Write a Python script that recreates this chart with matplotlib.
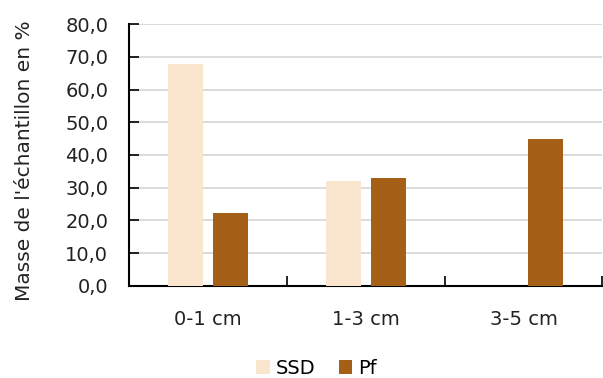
import numpy as np
import matplotlib.pyplot as plt

# ─── Données ──────────────────────────────────────────────────────
categories = ["0-1 cm", "1-3 cm", "3-5 cm"]
ssd = [67.8, 32.2, 0.0]
pf = [22.4, 33.0, 44.8]

COL_SSD = "#FAE5CF"
COL_PF = "#A65F16"

plt.rcParams["font.family"] = ["DejaVu Sans"]

fig = plt.figure(figsize=(6.03, 3.78), dpi=100)
ax = fig.add_axes([0.2139, 0.2434, 0.785, 0.6931])

x = np.arange(len(categories))
w = 0.222
off = 0.142
b1 = ax.bar(x - off, ssd, width=w, color=COL_SSD, label="SSD", zorder=3)
b2 = ax.bar(x + off, pf, width=w, color=COL_PF, label="Pf", zorder=3)

ax.set_xlim(-0.5, 2.5)
ax.set_ylim(0, 80)
ax.set_yticks(np.arange(0, 81, 10))
ax.set_yticklabels([f"{v:.1f}".replace(".", ",") for v in np.arange(0, 81, 10)],
                   fontsize=14, color="#222222")
ax.yaxis.grid(True, color="#D9D9D9", linewidth=1.3, zorder=0)
ax.set_axisbelow(True)

# ticks catégorie aux bords
ax.set_xticks([-0.5, 0.5, 1.5, 2.5])
ax.set_xticklabels([])
ax.set_xticks(x, minor=True)
ax.set_xticklabels(categories, minor=True, fontsize=14, color="#222222")
ax.tick_params(axis="x", which="minor", length=0, pad=17)
ax.tick_params(axis="x", which="major", direction="in", length=7, width=1.2)
ax.tick_params(axis="y", direction="in", length=7, width=1.2, pad=15)

for s in ["top", "right"]:
    ax.spines[s].set_visible(False)
for s in ["left", "bottom"]:
    ax.spines[s].set_linewidth(1.5)
    ax.spines[s].set_color("black")

fig.text(0.04, 0.574, "Masse de l'échantillon en %", rotation=90,
         ha="center", va="center", fontsize=14.5, color="#222222")

fig.legend(handles=[b1, b2], loc="center", bbox_to_anchor=(0.525, 0.025),
           ncol=2, frameon=False, fontsize=14, handlelength=0.7,
           handleheight=0.7, handletextpad=0.3, columnspacing=1.2)

fig.savefig("out.png", dpi=100)
